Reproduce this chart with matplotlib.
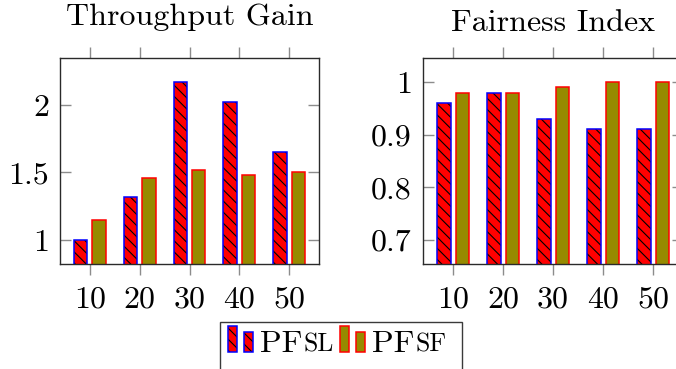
import numpy as np
import matplotlib
matplotlib.use("Agg")
import matplotlib.pyplot as plt
from matplotlib.patches import Rectangle
from matplotlib.offsetbox import (AnchoredOffsetbox, DrawingArea, HPacker,
                                  TextArea)

plt.rcParams["font.family"] = "cmr10"
plt.rcParams["mathtext.fontset"] = "cm"
plt.rcParams["axes.formatter.use_mathtext"] = True
plt.rcParams["hatch.linewidth"] = 0.8

users = [10, 20, 30, 40, 50]
gain_sl = [1.00, 1.32, 2.17, 2.02, 1.65]
gain_sf = [1.15, 1.46, 1.52, 1.48, 1.50]
fair_sl = [0.96, 0.98, 0.93, 0.91, 0.91]
fair_sf = [0.98, 0.98, 0.99, 1.00, 1.00]

gain_ticks = [1, 1.5, 2]
gain_labels = ["1", "1.5", "2"]
fair_ticks = [0.7, 0.8, 0.9, 1.0]
fair_labels = ["0.7", "0.8", "0.9", "1"]

SL_FACE, SL_EDGE = "#ff0000", "#0000ff"
SF_FACE, SF_EDGE = "#968a00", "#ff0000"
HATCH = "\\\\\\"
BAR_W = 2.7
SHIFT = 1.85
FS = 23

W, H = 676, 369
fig = plt.figure(figsize=(W / 100, H / 100), dpi=100)


def px_axes(left, top, right, bottom):
    return fig.add_axes([left / W, 1 - bottom / H, (right - left) / W, (bottom - top) / H])


def draw_bars(ax, sl, sf):
    x = np.array(users, dtype=float)
    # hatched fill first, then the coloured outline on top (keeps the hatch black)
    ax.bar(x - SHIFT, sl, BAR_W, color=SL_FACE, edgecolor="black",
           linewidth=0, hatch=HATCH, zorder=2)
    ax.bar(x - SHIFT, sl, BAR_W, fill=False, edgecolor=SL_EDGE,
           linewidth=1.1, zorder=3)
    ax.bar(x + SHIFT, sf, BAR_W, color=SF_FACE, edgecolor=SF_EDGE,
           linewidth=1.1, zorder=2)


def style(ax, ylim, yt, ylab):
    ax.set_xlim(4, 56)
    ax.set_ylim(*ylim)
    ax.set_xticks(users)
    ax.set_xticklabels([str(u) for u in users], fontsize=FS)
    ax.set_yticks(yt)
    ax.set_yticklabels(ylab, fontsize=FS)
    ax.tick_params(axis="x", which="major", direction="out", top=True,
                   bottom=True, labeltop=False, length=8, width=1.0,
                   color="#8c8c8c", pad=8)
    ax.tick_params(axis="y", which="major", direction="in", left=True,
                   right=True, length=8, width=1.0, color="#8c8c8c", pad=8)
    for s in ax.spines.values():
        s.set_color("#2a2a2a")
        s.set_linewidth(1.0)


ax1 = px_axes(60, 58, 319, 264)
draw_bars(ax1, gain_sl, gain_sf)
style(ax1, (0.823, 2.347), gain_ticks, gain_labels)
ax1.set_title("Throughput Gain", fontsize=FS, y=1.16, pad=0)

ax2 = px_axes(423, 58, 683, 264)
draw_bars(ax2, fair_sl, fair_sf)
style(ax2, (0.6545, 1.0455), fair_ticks, fair_labels)
ax2.set_title("Fairness Index", fontsize=FS, y=1.13, pad=0)


# legend: two small bars per entry, label "PF" followed by a small-caps suffix
def handle(face, edge, hatch):
    da = DrawingArea(18.0, 18.7, 0, 0)
    for x0, h in [(0.0, 18.7), (11.5, 14.4)]:
        if hatch:
            da.add_artist(Rectangle((x0, 0), 6.3, h, facecolor=face,
                                    edgecolor="black", linewidth=0, hatch=hatch))
            da.add_artist(Rectangle((x0, 0), 6.3, h, fill=False,
                                    edgecolor=edge, linewidth=1.1))
        else:
            da.add_artist(Rectangle((x0, 0), 6.3, h, facecolor=face,
                                    edgecolor=edge, linewidth=1.1))
    return da


def label(suffix):
    return HPacker(children=[TextArea("PF", textprops=dict(fontsize=FS)),
                             TextArea(suffix, textprops=dict(fontsize=18.5))],
                   align="baseline", pad=0, sep=0.8)


entry1 = HPacker(children=[handle(SL_FACE, SL_EDGE, HATCH), label("SL")],
                 align="baseline", pad=0, sep=5.0)
entry2 = HPacker(children=[handle(SF_FACE, SF_EDGE, None), label("SF")],
                 align="baseline", pad=0, sep=5.0)
row = HPacker(children=[entry1, entry2], align="baseline", pad=0, sep=4.3)
box = AnchoredOffsetbox(loc="upper left", child=row, pad=0, borderpad=0,
                        frameon=False, bbox_to_anchor=(228 / W, 1 - 326 / H),
                        bbox_transform=fig.transFigure)
fig.add_artist(box)
fig.add_artist(Rectangle((220 / W, -0.1), (462 - 220) / W, 0.1 + (369 - 322) / H,
                         transform=fig.transFigure, fill=False,
                         edgecolor="#3a3a3a", linewidth=1.0))

fig.savefig("out.png", dpi=100)
